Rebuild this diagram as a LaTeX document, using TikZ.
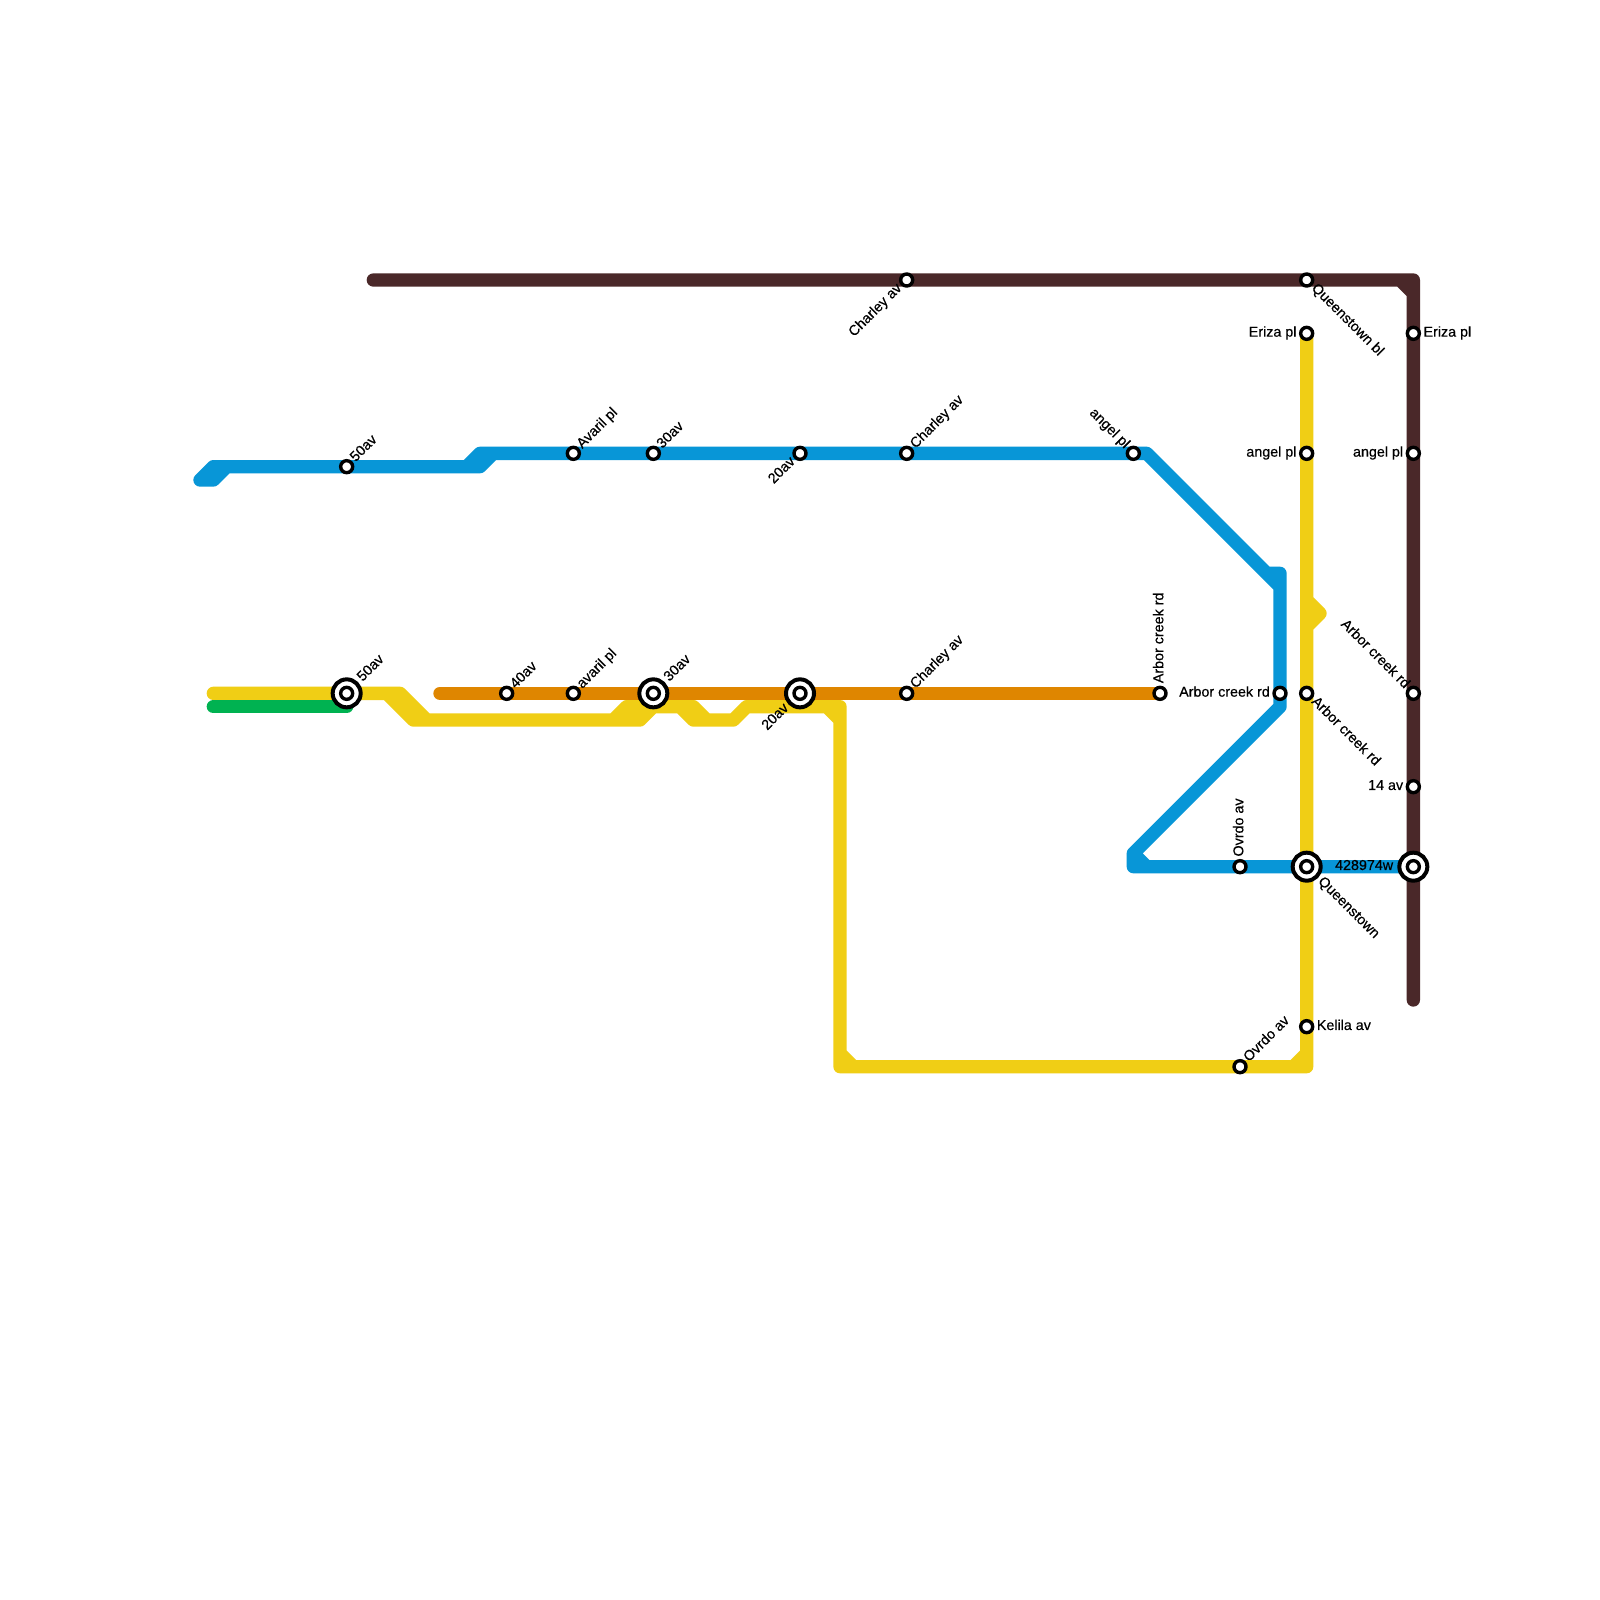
\documentclass[tikz,border=0pt]{standalone}
\usepackage{fontspec}
\setmainfont[FakeBold=0.4]{Liberation Sans}
\definecolor{cblue}{HTML}{0896D7}
\definecolor{cyellow}{HTML}{F0CE15}
\definecolor{corange}{HTML}{DF8600}
\definecolor{cbrown}{HTML}{4A2829}
\definecolor{cgreen}{HTML}{00B251}
\tikzset{
  route/.style={line width=13.33pt,line cap=round,line join=round},
  stn/.style={circle,draw=black,fill=white,line width=3.4pt,minimum size=12pt,inner sep=0pt,outer sep=0pt},
  hub/.style={circle,draw=black,fill=white,line width=4pt,minimum size=28pt,inner sep=0pt,outer sep=0pt},
  lab/.style={inner sep=0pt,text height=7pt,text depth=0.4pt,font=\fontsize{14.3}{15}\selectfont,text=black},
  lne/.style={lab,xshift=#1,yshift=#1,rotate=45,anchor=west},
  lne/.default=6.5pt,
  lse/.style={lab,xshift=#1,yshift=-#1,rotate=-45,anchor=west},
  lse/.default=6.5pt,
  lsw/.style={lab,xshift=-#1,yshift=-#1,rotate=45,anchor=east},
  lsw/.default=6.5pt,
  lnw/.style={lab,xshift=-#1,yshift=#1,rotate=-45,anchor=east},
  lnw/.default=6.5pt,
  lright/.style={lab,xshift=10pt,anchor=west},
  lleft/.style={lab,xshift=-#1,anchor=east},
  lleft/.default=10pt,
  lup/.style={lab,yshift=10pt,rotate=90,anchor=west},
}
\begin{document}
\begin{tikzpicture}[x=13.3333pt,y=-13.3333pt]
\useasboundingbox (0,0) rectangle (120,120);
\fill[white] (0,0) rectangle (120,120);
% route vertices
\foreach \n/\x/\y in {
 ba/15/36,bb/16/35,bc/16/36,bd/17/35,be/35/35,bf/36/34,bg/36/35,bh/37/34,bi/86/34,
 bk/95/43,bl/96/43,bm/96/44,bn/96/53,bo/85/64,bp/85/65,bq/86/65,
 ya/16/52,yb/30/52,yc/32/54,yd/29/52,ye/31/54,yf/46/54,yg/47/53,yh/48/54,yi/49/53,
 yj/51/53,yk/52/54,yl/52/53,ym/53/54,yn/55/54,yo/56/53,yp/63/53,yq/62/53,yr/63/54,
 ys/63/79,yt/63/80,yu/64/80,yv/97/80,yw/98/80,yx/98/79,yy/98/47,yz/99/46,yA/98/45,
 oa/33/52,ga/16/53,gb/26/53,ra/28/21,rb/106/21,rc/105/21,rd/106/22,re/106/75}
 {\coordinate (\n) at (\x,\y);}
% stations (positions)
\foreach \n/\x/\y in {
 sA/26/35,sB/43/34,sC/49/34,sD/60/34,sE/68/34,sF/85/34,
 sG/38/52,sH/43/52,sI/68/52,sJ/87/52,
 sK/68/21,sL/98/21,sM/106/25,sN/106/34,sO/106/52,sP/106/59,
 sQ/98/25,sR/98/34,sS/98/52,sT/98/77,sU/93/80,sV/96/52,sW/93/65,
 hA/26/52,hB/49/52,hC/60/52,hD/98/65,hE/106/65}
 {\coordinate (p\n) at (\x,\y);}
% lines
\draw[route,cyellow] (ya)--(yb)--(yc)--(ye)--(yd) (ye)--(yh)--(yi) (yf)--(yg)--(yl)--(ym)
  (yj)--(yk)--(yn)--(yo)--(yp)--(yt)--(yw)--(psQ) (yA)--(yz)--(yy)
  (yq)--(yr) (ys)--(yu) (yv)--(yx);
\draw[route,cgreen] (ga)--(gb);
\draw[route,corange] (oa)--(psJ);
\draw[route,cblue] (ba)--(bb)--(bg) (ba)--(bc)--(bd) (be)--(bf)--(bh) (bg)--(bh)--(bi)--(bm)
  (bk)--(bl)--(bn)--(bo)--(bp)--(phE) (bo)--(bq);
\draw[route,cbrown] (ra)--(rb)--(re) (rc)--(rd);
% hubs
\foreach \h in {hA,hB,hC,hD,hE}{
  \node[hub] (r\h) at (p\h) {};
  \node[stn] (\h) at (p\h) {};
}
% stations
\foreach \s in {sA,sB,sC,sD,sE,sF,sG,sH,sI,sJ,sK,sL,sM,sN,sO,sP,sQ,sR,sS,sT,sU,sV,sW}{
  \node[stn] (\s) at (p\s) {};
}
% labels
\node[lne] (tA) at (sA) {50av};
\node[lne] (tB) at (sB) {Avaril pl};
\node[lne] (tC) at (sC) {30av};
\node[lsw] (tD) at (sD) {20av};
\node[lne] (tE) at (sE) {Charley av};
\node[lnw] (tF) at (sF) {angel pl};
\node[lne] (tG) at (sG) {40av};
\node[lne] (tH) at (sH) {avaril pl};
\node[lne] (tI) at (sI) {Charley av};
\node[lup] (tJ) at (sJ) {Arbor creek rd};
\node[lsw] (tK) at (sK) {Charley av};
\node[lse] (tL) at (sL) {Queenstown bl};
\node[lright] (tM) at (sM) {Eriza pl};
\node[lleft] (tN) at (sN) {angel pl};
\node[lnw] (tO) at (sO) {Arbor creek rd};
\node[lleft] (tP) at (sP) {14 av};
\node[lleft] (tQ) at (sQ) {Eriza pl};
\node[lleft] (tR) at (sR) {angel pl};
\node[lse] (tS) at (sS) {Arbor creek rd};
\node[lright] (tT) at (sT) {Kelila av};
\node[lne] (tU) at (sU) {Ovrdo av};
\node[lleft] (tV) at (sV) {Arbor creek rd};
\node[lup] (tW) at (sW) {Ovrdo av};
\node[lne=13.5pt] (uA) at (hA) {50av};
\node[lne=13.5pt] (uB) at (hB) {30av};
\node[lsw=13pt] (uC) at (hC) {20av};
\node[lse=13pt] (uD) at (hD) {Queenstown};
\node[lleft=20pt] (uE) at (hE) {428974w};
\end{tikzpicture}
\end{document}
